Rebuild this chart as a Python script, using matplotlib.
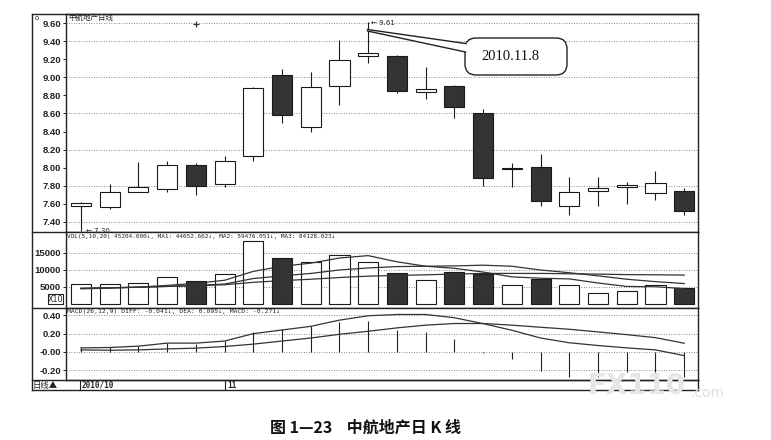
import matplotlib
matplotlib.use('Agg')
import matplotlib.pyplot as plt
from matplotlib.patches import FancyBboxPatch, Polygon, Rectangle
from matplotlib.lines import Line2D
from matplotlib.transforms import Affine2D

# ---------------- data ----------------
opens  = [7.57, 7.56, 7.73, 7.76, 8.03, 7.82, 8.13, 9.03, 8.45, 8.91, 9.24,
          9.24, 8.84, 8.90, 8.60, 7.99, 8.01, 7.57, 7.74, 7.78, 7.72, 7.74]
closes = [7.61, 7.73, 7.79, 8.03, 7.80, 8.07, 8.88, 8.58, 8.89, 9.19, 9.27,
          8.85, 8.87, 8.67, 7.88, 8.00, 7.63, 7.73, 7.77, 7.81, 7.83, 7.52]
highs  = [7.62, 7.82, 8.06, 8.07, 8.05, 8.13, 8.89, 9.09, 9.06, 9.41, 9.61,
          9.25, 9.11, 8.92, 8.65, 8.05, 8.15, 7.90, 7.90, 7.84, 7.96, 7.77]
lows   = [7.30, 7.54, 7.73, 7.73, 7.70, 7.78, 8.07, 8.50, 8.40, 8.69, 9.16,
          8.83, 8.76, 8.55, 7.80, 7.78, 7.57, 7.48, 7.57, 7.60, 7.64, 7.48]

volumes = [5882, 5686, 6176, 7843, 6667, 8725, 18333, 13529, 12255, 14314, 12353,
           9020, 6863, 9314, 8725, 5490, 7353, 5490, 3235, 3824, 5490, 4520]
vol_ma5  = [4400, 4600, 4900, 5400, 6000, 6900, 9500, 11000, 11900, 13400, 14100,
            12300, 11000, 10400, 9300, 7900, 7500, 7300, 6100, 5100, 5000, 4470]
vol_ma10 = [4500, 4700, 4900, 5100, 5400, 5800, 7400, 8200, 8900, 9900, 10500,
            10900, 11000, 11100, 11300, 11000, 9900, 9100, 8200, 7200, 6500, 5950]
vol_ma20 = [4600, 4700, 4850, 5100, 5300, 5600, 6300, 6800, 7200, 7700, 8100,
            8300, 8500, 8700, 8900, 8900, 8900, 8800, 8700, 8550, 8500, 8410]

diff = [0.044, 0.048, 0.063, 0.096, 0.096, 0.119, 0.200, 0.240, 0.280, 0.348, 0.396,
        0.410, 0.410, 0.374, 0.310, 0.237, 0.152, 0.100, 0.070, 0.044, 0.022, -0.041]
dea  = [0.022, 0.018, 0.022, 0.033, 0.041, 0.059, 0.085, 0.119, 0.152, 0.193, 0.226,
        0.263, 0.293, 0.311, 0.311, 0.293, 0.270, 0.248, 0.219, 0.189, 0.156, 0.095]
macd = [0.044, 0.056, 0.070, 0.096, 0.088, 0.115, 0.218, 0.248, 0.285, 0.330, 0.337,
        0.240, 0.218, 0.137, -0.010, -0.078, -0.207, -0.270, -0.270, -0.220, -0.220, -0.271]

price_ticks = [9.60, 9.40, 9.20, 9.00, 8.80, 8.60, 8.40, 8.20, 8.00, 7.80, 7.60, 7.40]
price_grid = [9.60, 9.40, 9.00, 8.60, 8.20, 7.80, 7.40]
vol_ticks = [15000, 10000, 5000]
macd_ticks = [0.40, 0.20, 0.00, -0.20]
macd_tick_labels = ['0.40', '0.20', '-0.00', '-0.20']

# ---------------- figure ----------------
W, H = 771, 440
fig = plt.figure(figsize=(W / 100, H / 100), dpi=100)
fig.patch.set_facecolor('white')
tpx = Affine2D().scale(1.0 / W, -1.0 / H).translate(0, 1) + fig.transFigure

def fx(p):
    return p / W

def fy(p):
    return 1 - p / H

L, R = 66, 698
def add_ax(top, bottom):
    return fig.add_axes([fx(L), fy(bottom), fx(R) - fx(L), fy(top) - fy(bottom)])

ax_p = add_ax(14, 232)
ax_v = add_ax(232, 308)
ax_m = add_ax(308, 380)

n = len(opens)
xs = list(range(n))
DARK = '#333333'
EDGE = '#1a1a1a'
GRID = dict(color='#666666', lw=0.6, ls=(0, (1, 2)))
tickfont = dict(family='Liberation Sans', weight='bold', size=6.8)

for ax in (ax_p, ax_v, ax_m):
    ax.set_xlim(-0.52, 21.48)
    ax.set_xticks([])
    for s in ax.spines.values():
        s.set_linewidth(1.0)
        s.set_color('#222222')
    ax.tick_params(axis='y', direction='out', length=2.5, width=0.7, pad=1.2, colors='#222222')

# price panel
ax_p.set_ylim(7.286, 9.703)
for g in price_grid:
    ax_p.axhline(g, zorder=0, **GRID)
up = [c >= o for o, c in zip(opens, closes)]
ax_p.vlines(xs, lows, highs, color=EDGE, lw=0.8, zorder=2)
bottoms = [min(o, c) for o, c in zip(opens, closes)]
heights = [max(abs(c - o), 0.008) for o, c in zip(opens, closes)]
ax_p.bar(xs, heights, bottom=bottoms, width=0.7,
         color=['white' if u else DARK for u in up], edgecolor=EDGE, lw=0.8, zorder=3)
ax_p.set_yticks(price_ticks)
ax_p.set_yticklabels(['%.2f' % t for t in price_ticks], **tickfont)
ax_p.plot([4], [9.592], marker='+', ms=4.5, mew=0.9, color=DARK, zorder=4)
ax_p.text(0.18, lows[0], '\u2190 7.30', fontsize=5, family='DejaVu Sans', va='center', ha='left', color='#222')
ax_p.text(10.08, highs[10] - 0.01, '\u2190 9.61', fontsize=5, family='DejaVu Sans', va='center', ha='left', color='#222')

# volume panel
ax_v.set_ylim(-1200, 21000)
for g in vol_ticks:
    ax_v.axhline(g, zorder=0, **GRID)
ax_v.bar(xs, volumes, width=0.7, color=['white' if u else DARK for u in up],
         edgecolor=EDGE, lw=0.8, zorder=2)
ax_v.plot(xs, vol_ma5, color='#333', lw=0.9, zorder=3)
ax_v.plot(xs, vol_ma10, color='#333', lw=0.9, zorder=3)
ax_v.plot(xs, vol_ma20, color='#333', lw=0.9, zorder=3)
ax_v.set_yticks(vol_ticks)
ax_v.set_yticklabels([str(t) for t in vol_ticks], **tickfont)

# MACD panel
ax_m.set_ylim(-0.308, 0.481)
for g in macd_ticks:
    ax_m.axhline(g, zorder=0, **GRID)
ax_m.vlines(xs, 0, macd, color='#222', lw=0.8, zorder=2)
ax_m.plot(xs, diff, color='#333', lw=0.9, zorder=3)
ax_m.plot(xs, dea, color='#333', lw=0.9, zorder=3)
ax_m.set_yticks(macd_ticks)
ax_m.set_yticklabels(macd_tick_labels, **tickfont)

# headers
cjk = ['Noto Sans CJK SC', 'DejaVu Sans']
fig.text(fx(68), fy(18), '中航地产日线', family=cjk, fontsize=5.4, va='center', ha='left', color='#222')
fig.text(fx(67), fy(236.5), 'VOL(5,10,20) 45204.000\u2193, MA1: 44652.602\u2193, MA2: 59476.051\u2193, MA3: 84128.023\u2193',
         family='DejaVu Sans Mono', fontsize=4.3, va='center', ha='left', color='#222')
fig.text(fx(67), fy(311.5), 'MACD(26,12,9) DIFF: -0.041\u2193, DEA: 0.095\u2193, MACD: -0.271\u2193',
         family='DejaVu Sans Mono', fontsize=4.6, va='center', ha='left', color='#222')

# frame lines
def line(x0, y0, x1, y1, lw=1.0, color='#222'):
    fig.add_artist(Line2D([x0, x1], [y0, y1], transform=tpx, lw=lw, color=color))

line(32, 14, R, 14)
line(32, 14, 32, 390)
line(32, 232, L, 232)
line(32, 308, L, 308)
line(32, 380, R, 380)
line(32, 390, R, 390)
line(R, 380, R, 390)
line(80, 380, 80, 390, lw=0.8)
line(225, 380, 225, 390, lw=0.8)
fig.text(fx(34.5), fy(17.5), 'o', fontsize=5, va='center', ha='left', color='#222')

# X10 box
fig.add_artist(Rectangle((48, 294), 15, 10, transform=tpx, fill=False, lw=0.8, ec='#222'))
fig.text(fx(55.5), fy(299.2), 'X10', fontsize=5.8, va='center', ha='center', family='DejaVu Sans', color='#222')

# bottom strip
fig.text(fx(33), fy(385), '日线▲', family=cjk, fontsize=6, va='center', ha='left', color='#222')
fig.text(fx(82), fy(385), '2010/10', family='DejaVu Sans Mono', weight='bold', fontsize=5.5, va='center', ha='left', color='#222')
fig.text(fx(227), fy(385), '11', family='DejaVu Sans Mono', weight='bold', fontsize=5.5, va='center', ha='left', color='#222')

# callout
box = FancyBboxPatch((465, 38), 102, 37, boxstyle='round,pad=0,rounding_size=11',
                     transform=tpx, fc='white', ec='#222', lw=1.0)
fig.add_artist(box)
fig.add_artist(Polygon([(367.5, 29.5), (466.5, 43.5), (466.5, 52), (367.5, 31)], closed=True,
                       transform=tpx, fc='white', ec='none'))
line(367.5, 29.5, 465.5, 43.5, lw=1.0)
line(367.5, 31, 465.5, 52, lw=1.0)
fig.text(fx(510), fy(57), '2010.11.8', family='Liberation Serif', fontsize=10.5, va='center', ha='center', color='#111')

# watermark
fig.text(fx(587), fy(386), 'FX110', family='DejaVu Sans', weight='bold', fontsize=20,
         va='center', ha='left', color='#e6e6e6', zorder=10)
fig.text(fx(690), fy(393), '.com', family='DejaVu Sans', fontsize=10,
         va='center', ha='left', color='#e0e0e0', zorder=10)

# caption
fig.text(fx(366), fy(428), '图 1—23    中航地产日 K 线', family=cjk, weight='bold', fontsize=11.5,
         va='center', ha='center', color='#111')

fig.savefig('out.png', dpi=100, facecolor='white')
